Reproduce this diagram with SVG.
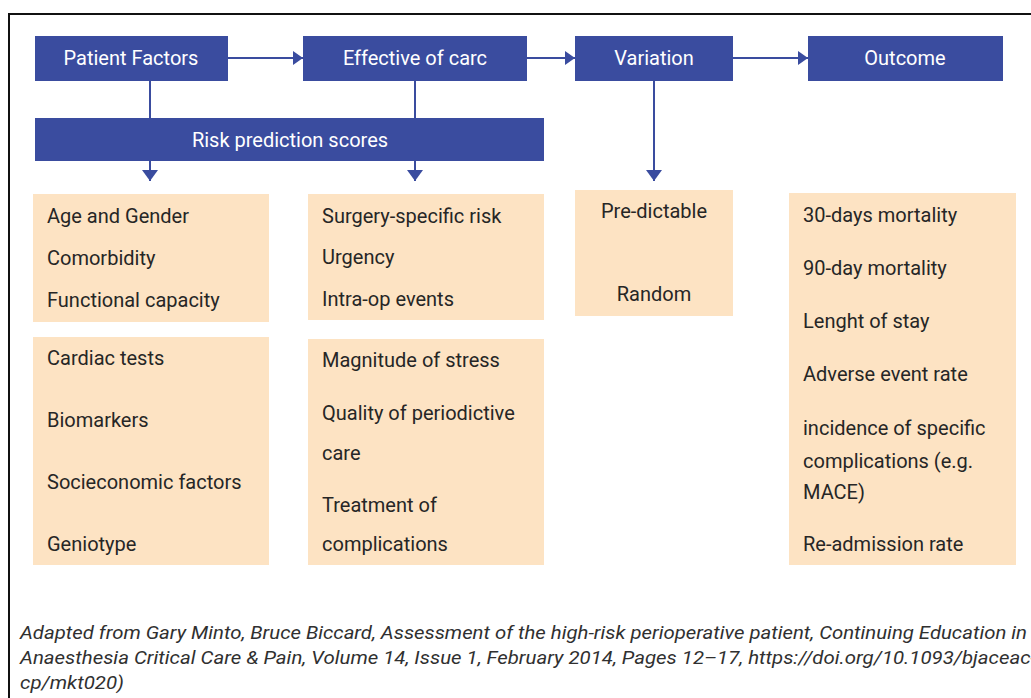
<svg xmlns="http://www.w3.org/2000/svg" width="1031" height="698" viewBox="0 0 1031 698">
<style>
.hdr{fill:#3a4c9f}
.box{fill:#fde3c3}
.ht{font-family:Roboto,"Liberation Sans",sans-serif;font-size:20px;fill:#ffffff;text-anchor:middle;dominant-baseline:central}
.bt{font-family:Roboto,"Liberation Sans",sans-serif;font-size:20px;fill:#262626;dominant-baseline:central}
.ct{text-anchor:middle}
.ln{stroke:#3a4c9f;stroke-width:2;fill:none}
.ft{font-family:Roboto,"Liberation Sans",sans-serif;font-size:18px;font-style:italic;fill:#303030}
</style>
<defs>
<marker id="ah" viewBox="0 0 10 14" refX="10" refY="7" markerWidth="10" markerHeight="14" markerUnits="userSpaceOnUse" orient="auto">
<path d="M0,0 L10,7 L0,14 z" fill="#3a4c9f"/>
</marker>
<marker id="ad" viewBox="0 0 11 16" refX="11" refY="8" markerWidth="11" markerHeight="16" markerUnits="userSpaceOnUse" orient="auto">
<path d="M0,0 L11,8 L0,16 z" fill="#3a4c9f"/>
</marker>
</defs>
<rect width="1031" height="698" fill="#ffffff"/>
<g id="frame">
<path d="M9,698 V14 H1031" stroke="#111111" stroke-width="2" fill="none"/>
</g>
<g id="connectors">
<line class="ln" x1="228" y1="58" x2="303" y2="58" marker-end="url(#ah)"/>
<line class="ln" x1="527" y1="58" x2="575" y2="58" marker-end="url(#ah)"/>
<line class="ln" x1="733" y1="58" x2="808" y2="58" marker-end="url(#ah)"/>
<line class="ln" x1="150" y1="81" x2="150" y2="118"/>
<line class="ln" x1="415" y1="81" x2="415" y2="118"/>
<line class="ln" x1="150" y1="160" x2="150" y2="181" marker-end="url(#ad)"/>
<line class="ln" x1="415" y1="160" x2="415" y2="181" marker-end="url(#ad)"/>
<line class="ln" x1="654" y1="81" x2="654" y2="181" marker-end="url(#ad)"/>
</g>
<g id="patient-factors">
<rect class="hdr" x="35" y="36" width="193" height="45"/>
<text class="ht" x="131" y="58">Patient Factors</text>
</g>
<g id="effective-of-care">
<rect class="hdr" x="303" y="36" width="224" height="45"/>
<text class="ht" x="415" y="58">Effective of carc</text>
</g>
<g id="variation">
<rect class="hdr" x="575" y="36" width="158" height="45"/>
<text class="ht" x="654" y="58">Variation</text>
</g>
<g id="outcome">
<rect class="hdr" x="808" y="36" width="195" height="45"/>
<text class="ht" x="905" y="58">Outcome</text>
</g>
<g id="risk-prediction">
<rect class="hdr" x="35" y="118" width="509" height="43"/>
<text class="ht" x="290" y="140">Risk prediction scores</text>
</g>
<g id="patient-basic">
<rect class="box" x="33" y="194" width="236" height="128"/>
<text class="bt" x="47" y="216">Age and Gender</text>
<text class="bt" x="47" y="258">Comorbidity</text>
<text class="bt" x="47" y="300">Functional capacity</text>
</g>
<g id="patient-tests">
<rect class="box" x="33" y="337" width="236" height="228"/>
<text class="bt" x="47" y="358">Cardiac tests</text>
<text class="bt" x="47" y="420">Biomarkers</text>
<text class="bt" x="47" y="482">Socieconomic factors</text>
<text class="bt" x="47" y="544">Geniotype</text>
</g>
<g id="care-basic">
<rect class="box" x="308" y="194" width="236" height="126"/>
<text class="bt" x="322" y="216">Surgery-specific risk</text>
<text class="bt" x="322" y="257">Urgency</text>
<text class="bt" x="322" y="299">Intra-op events</text>
</g>
<g id="care-stress">
<rect class="box" x="308" y="339" width="236" height="226"/>
<text class="bt" x="322" y="360">Magnitude of stress</text>
<text class="bt" x="322" y="413">Quality of periodictive</text>
<text class="bt" x="322" y="453">care</text>
<text class="bt" x="322" y="505">Treatment of</text>
<text class="bt" x="322" y="544">complications</text>
</g>
<g id="variation-types">
<rect class="box" x="575" y="190" width="158" height="126"/>
<text class="bt ct" x="654" y="211">Pre-dictable</text>
<text class="bt ct" x="654" y="294">Random</text>
</g>
<g id="outcome-measures">
<rect class="box" x="789" y="193" width="227" height="372"/>
<text class="bt" x="803" y="215">30-days mortality</text>
<text class="bt" x="803" y="268">90-day mortality</text>
<text class="bt" x="803" y="321">Lenght of stay</text>
<text class="bt" x="803" y="374">Adverse event rate</text>
<text class="bt" x="803" y="428">incidence of specific</text>
<text class="bt" x="803" y="461">complications (e.g.</text>
<text class="bt" x="803" y="492">MACE)</text>
<text class="bt" x="803" y="544">Re-admission rate</text>
</g>
<g id="citation">
<text class="ft" x="20" y="639" textLength="1007" lengthAdjust="spacingAndGlyphs">Adapted from Gary Minto, Bruce Biccard, Assessment of the high-risk perioperative patient, Continuing Education in</text>
<text class="ft" x="20" y="664" textLength="1016" lengthAdjust="spacingAndGlyphs">Anaesthesia Critical Care &amp; Pain, Volume 14, Issue 1, February 2014, Pages 12–17, https://doi.org/10.1093/bjaceac-</text>
<text class="ft" x="20" y="689" textLength="104" lengthAdjust="spacingAndGlyphs">cp/mkt020)</text>
</g>
</svg>
